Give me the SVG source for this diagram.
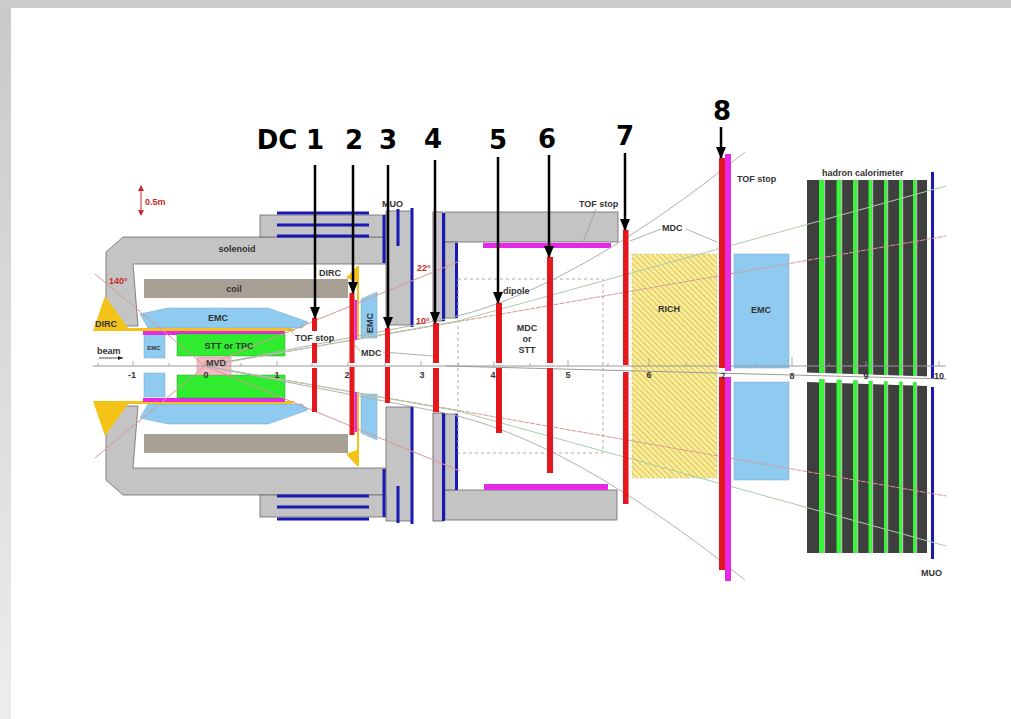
<svg xmlns="http://www.w3.org/2000/svg" width="1011" height="719" viewBox="0 0 1011 719">
<defs>
<style>
.t{font-family:"Liberation Sans",Arial,sans-serif;font-weight:bold;font-size:9px;fill:#333}
.s{font-size:6px}
.tr{fill:#c8282a}
.m{text-anchor:middle}
.big{font-family:"DejaVu Sans","Liberation Sans",sans-serif;font-weight:bold;font-size:26px;fill:#000;text-anchor:middle}
.yoke{fill:#c4c4c4;stroke:#6a6a6a;stroke-width:0.8}
.lav{fill:#cbc3cb;stroke:#555;stroke-width:0.8}
.mu{stroke:#1818b4;stroke-width:3;fill:none}
.dc{fill:#e3171c}
.mag{fill:#e629e6}
.emc{fill:#8fcaf0;stroke:#7aa6c4;stroke-width:0.5}
.stt{fill:#2fec2f;stroke:#3a9a3a;stroke-width:0.5}
.dirc{fill:#f3c417}
.pk{stroke:#d99797;stroke-width:1;fill:none}
.gn{stroke:#a6cda6;stroke-width:1;fill:none}
.gy{stroke:#b0b0b0;stroke-width:1;fill:none}
.ld{stroke:#9a9a9a;stroke-width:0.8;fill:none}
.arr{stroke:#000;stroke-width:2.5;fill:none;marker-end:url(#ah)}
.hc{fill:#3f3f3f}
.hg{fill:#35f535}
.hs{fill:#b8b8b8}
</style>
<marker id="ah" markerUnits="userSpaceOnUse" markerWidth="12" markerHeight="10" viewBox="0 0 12 10" refX="11" refY="5" orient="auto"><path d="M0,0 L12,5 L0,10 z" fill="#000"/></marker>
<marker id="sa" markerUnits="userSpaceOnUse" markerWidth="6" markerHeight="6" viewBox="0 0 6 6" refX="5" refY="3" orient="auto-start-reverse"><path d="M0,0 L6,3 L0,6 z" fill="#c8282a"/></marker>
<marker id="ba" markerUnits="userSpaceOnUse" markerWidth="5" markerHeight="4" viewBox="0 0 5 4" refX="5" refY="2" orient="auto"><path d="M0,0 L5,2 L0,4 z" fill="#222"/></marker>
<pattern id="hatch" width="4" height="4" patternUnits="userSpaceOnUse" patternTransform="rotate(-45)"><rect width="4" height="4" fill="#fbf1a6"/><rect x="0" y="0" width="1.4" height="4" fill="#e4c955"/></pattern>
<linearGradient id="lb" x1="0" y1="0" x2="0" y2="1"><stop offset="0" stop-color="#c9c9c9"/><stop offset="1" stop-color="#ededed"/></linearGradient>
</defs>

<rect width="1011" height="719" fill="#fff"/>
<rect x="0" y="0" width="11" height="719" fill="url(#lb)"/>
<rect x="0" y="0" width="1011" height="8" fill="#cdcdcd"/>

<g id="solenoid">
<path class="yoke" d="M106,252 L123,237 L386,237 L386,264 L133,264 L138,326 L123,326 L106,307 Z"/>
<path class="yoke" d="M106,480 L123,495 L386,495 L386,468 L133,468 L138,406 L123,406 L106,425 Z"/>
<rect class="yoke" x="386" y="211" width="26" height="114"/>
<rect class="yoke" x="386" y="407" width="26" height="114"/>
<rect class="yoke" x="260" y="215" width="126" height="22"/>
<rect class="yoke" x="260" y="495" width="126" height="22"/>
</g>

<g id="coil">
<rect x="144" y="279" width="204" height="19" fill="#a9a095"/>
<rect x="144" y="434" width="204" height="19" fill="#a9a095"/>
</g>

<g id="muon-barrel">
<path class="mu" d="M277,213 H369 M277,225 H369 M277,236 H369 M277,519 H369 M277,507 H369 M277,496 H369"/>
<path class="mu" d="M384,215 V263 M398,209 V246 M412,208 V327 M384,469 V517 M398,486 V523 M412,406 V524"/>
</g>

<g id="dipole-yoke">
<rect class="lav" x="433" y="212" width="10" height="109"/>
<rect class="lav" x="433" y="413" width="10" height="108"/>
<rect class="yoke" x="445" y="212" width="173" height="30"/>
<rect class="yoke" x="445" y="490" width="172" height="30"/>
<rect class="yoke" x="445" y="242" width="12" height="76"/>
<rect class="yoke" x="445" y="414" width="12" height="76"/>
<path class="mu" d="M443.5,213 V321 M443.5,413 V521 M456.5,243 V318 M456.5,414 V490"/>
<rect class="mag" x="483" y="243" width="128" height="5"/>
<rect class="mag" x="484" y="484" width="124" height="6"/>
</g>

<g id="dipole">
<rect x="458" y="279" width="145" height="174" fill="none" stroke="#aaa" stroke-width="1" stroke-dasharray="3,3"/>
</g>

<g id="emc-barrel">
<path class="emc" d="M140,314 L168,308 L268,308 L308,322 L302,328 L148,328 Z"/>
<path class="emc" d="M140,418 L168,424 L268,424 L308,410 L302,404 L148,404 Z"/>
</g>
<g id="emc-backward">
<rect class="emc" x="144" y="334" width="21" height="24"/>
<rect class="emc" x="144" y="373" width="21" height="24"/>
</g>
<g id="emc-forward-endcap">
<path class="emc" d="M361,299 L377,292 L377,338 L361,338 Z"/>
<path class="emc" d="M361,394 L377,394 L377,440 L361,433 Z"/>
</g>

<g id="dirc">
<path class="dirc" d="M93,331 L105,296 L128,328 L292,328 L295,331 Z"/>
<path class="dirc" d="M93,401 L105,436 L128,404 L292,404 L295,401 Z"/>
<path class="dirc" d="M357,266 L359,266 L359,340 L357,340 L357,282 L346,278 Z"/>
<path class="dirc" d="M357,466 L359,466 L359,392 L357,392 L357,450 L346,454 Z"/>
</g>

<g id="tof-barrel">
<rect class="mag" x="143" y="331" width="142" height="4"/>
<rect class="mag" x="143" y="398" width="142" height="4"/>
</g>

<g id="stt">
<rect class="stt" x="177" y="334" width="108" height="22"/>
<rect class="stt" x="177" y="375" width="108" height="23"/>
</g>

<g id="mvd">
<rect x="197" y="357" width="34" height="18" fill="#f4b9c7" stroke="#c99" stroke-width="0.6"/>
</g>

<g id="rich">
<rect x="632" y="254" width="85" height="224" fill="url(#hatch)" stroke="#c8c8a8" stroke-width="0.8" stroke-dasharray="2,2"/>
</g>

<g id="emc-forward">
<rect class="emc" x="734" y="254" width="55" height="114"/>
<rect class="emc" x="734" y="382" width="55" height="98"/>
</g>

<g id="hadron-calorimeter">
<path class="hc" d="M807,180 H927 V377 L807,373 Z"/>
<path class="hc" d="M807,382 L927,386 V553 H807 Z"/>
<g>
<rect class="hg" x="819" y="180" width="5" height="373"/>
<rect class="hg" x="836.5" y="180" width="4.5" height="373"/>
<rect class="hg" x="853" y="180" width="4" height="373"/>
<rect class="hg" x="868.5" y="180" width="3.5" height="373"/>
<rect class="hg" x="884" y="180" width="3" height="373"/>
<rect class="hg" x="899" y="180" width="3" height="373"/>
<rect class="hg" x="913" y="180" width="3" height="373"/>
<rect class="hs" x="824" y="180" width="1.2" height="373"/>
<rect class="hs" x="841" y="180" width="1.2" height="373"/>
<rect class="hs" x="857" y="180" width="1.2" height="373"/>
<rect class="hs" x="872" y="180" width="1.2" height="373"/>
<rect class="hs" x="887" y="180" width="1.2" height="373"/>
<rect class="hs" x="902" y="180" width="1.2" height="373"/>
<rect class="hs" x="916" y="180" width="1.2" height="373"/>
</g>
<path d="M805,375.5 L929,379.5" stroke="#fff" stroke-width="6"/>
</g>

<g id="muon-forward">
<path class="mu" d="M932.5,172 V379 M932.5,387 V559"/>
</g>

<g id="axis">
<path d="M93,366 H946" stroke="#9a9a9a" stroke-width="1"/>
<path d="M446,366 L946,379" stroke="#9a9a9a" stroke-width="1"/>
<path d="M98,363 V366 M133,361 V366 M169,363 V366 M205,361 V366 M241,363 V366 M277,361 V366 M312,363 V366 M348,361 V366 M385,363 V366 M421,361 V366 M458,363 V366 M494,361 V366 M530,363 V366 M568,360 V366 M608,363 V366 M649,358 V366 M686,363 V366 M723,360 V366 M757,363 V366 M792,357 V366 M829,363 V366 M866,361 V366 M902,363 V366 M939,361 V366" stroke="#9a9a9a" stroke-width="0.8"/>
</g>

<g id="tracks">
<path class="pk" d="M205,366 L95,274 M205,366 L95,458"/>
<path class="pk" d="M205,366 L460,261 M205,366 L460,471"/>
<path class="pk" d="M205,366 L946,236 M205,366 L946,496" stroke-dasharray="5,1"/>
<path class="gn" d="M205,366 L458,321 L946,186 M205,366 L458,411 L946,546"/>
<path class="gy" d="M205,366 L440,320 Q567,295 745,152 M205,366 L440,412 Q567,437 745,580"/>
</g>

<g id="leaders">
<path class="ld" d="M596,209 L583,242"/>
<path class="ld" d="M661,229 L630,241 M686,229 L717,242"/>
<path class="ld" d="M294,334 L288,328"/>
<path class="ld" d="M360,351 L355,345 M383,352 L433,356"/>
</g>

<g id="drift-chambers">
<rect class="dc" x="312" y="318" width="5" height="13"/>
<rect class="dc" x="312" y="343" width="5" height="20"/>
<rect class="dc" x="312" y="368" width="5" height="44"/>
<rect class="dc" x="349.5" y="293" width="5" height="70"/>
<rect class="dc" x="349.5" y="367" width="5" height="68"/>
<rect class="mag" x="354.5" y="300" width="2.5" height="40"/>
<rect class="mag" x="354.5" y="392" width="2.5" height="40"/>
<rect class="dc" x="385" y="328" width="5" height="35"/>
<rect class="dc" x="385" y="367" width="5" height="36"/>
<rect class="dc" x="433" y="323" width="6" height="40"/>
<rect class="dc" x="433" y="368" width="6" height="44"/>
<rect class="dc" x="496" y="303" width="6" height="60"/>
<rect class="dc" x="496" y="368" width="6" height="65"/>
<rect class="dc" x="547" y="257" width="6" height="106"/>
<rect class="dc" x="547" y="368" width="6" height="105"/>
<rect class="dc" x="623" y="230" width="5.5" height="135"/>
<rect class="dc" x="623" y="372" width="5.5" height="132"/>
<rect class="dc" x="719" y="158" width="6" height="210"/>
<rect class="dc" x="719" y="377" width="6" height="193"/>
<rect class="mag" x="725" y="154" width="6" height="217"/>
<rect class="mag" x="725" y="377" width="6" height="204"/>
</g>

<g id="labels">
<path d="M141,186 V215" stroke="#c8282a" stroke-width="1" marker-start="url(#sa)" marker-end="url(#sa)"/>
<text class="t tr" x="145" y="205">0.5m</text>
<text class="t m" x="237" y="252">solenoid</text>
<text class="t tr" x="109" y="284">140°</text>
<text class="t m" x="234" y="292">coil</text>
<text class="t" x="95" y="327" font-size="8">DIRC</text>
<text class="t m" x="218" y="321">EMC</text>
<text class="t s m" x="154" y="350">EMC</text>
<text class="t m" x="229" y="349">STT or TPC</text>
<text class="t" x="97" y="354">beam</text>
<path d="M99,358 H123" stroke="#222" stroke-width="0.8" marker-end="url(#ba)"/>
<text class="t m" x="216" y="366">MVD</text>
<text class="t" x="295" y="341">TOF stop</text>
<text class="t" x="361" y="356">MDC</text>
<text class="t" x="319" y="276">DIRC</text>
<text class="t m" transform="translate(373,323) rotate(-90)">EMC</text>
<text class="t" x="382" y="207">MUO</text>
<text class="t tr" x="417" y="271">22°</text>
<text class="t tr" x="416" y="324">10°</text>
<text class="t" x="503" y="294">dipole</text>
<text class="t m" x="527" y="331">MDC</text>
<text class="t m" x="527" y="342">or</text>
<text class="t m" x="527" y="353">STT</text>
<text class="t" x="579" y="207">TOF stop</text>
<text class="t" x="662" y="231">MDC</text>
<text class="t m" x="669" y="312">RICH</text>
<text class="t" x="737" y="182">TOF stop</text>
<text class="t m" x="761" y="313">EMC</text>
<text class="t" x="822" y="176">hadron calorimeter</text>
<text class="t" x="921" y="576">MUO</text>
<g class="t m">
<text class="t m" x="132" y="378">-1</text>
<text class="t m" x="206" y="378">0</text>
<text class="t m" x="277" y="378">1</text>
<text class="t m" x="347" y="378">2</text>
<text class="t m" x="422" y="378">3</text>
<text class="t m" x="493" y="378">4</text>
<text class="t m" x="568" y="378">5</text>
<text class="t m" x="649" y="378">6</text>
<text class="t m" x="723" y="379">7</text>
<text class="t m" x="792" y="379">8</text>
<text class="t m" x="866" y="379">9</text>
<text class="t m" x="939" y="379">10</text>
</g>
<text class="big" x="277" y="149">DC</text>
<text class="big" x="315" y="149">1</text>
<text class="big" x="354" y="149">2</text>
<text class="big" x="388" y="149">3</text>
<text class="big" x="433" y="148">4</text>
<text class="big" x="498" y="149">5</text>
<text class="big" x="547" y="148">6</text>
<text class="big" x="625" y="145">7</text>
<text class="big" x="722" y="120">8</text>
</g>

<g id="connectors">
<path class="arr" d="M315,165 V318"/>
<path class="arr" d="M353,165 V293"/>
<path class="arr" d="M388,165 V328"/>
<path class="arr" d="M435,160 V323"/>
<path class="arr" d="M498,157 V303"/>
<path class="arr" d="M549,155 V257"/>
<path class="arr" d="M625,153 V230"/>
<path class="arr" d="M721,127 V158"/>
</g>
</svg>
